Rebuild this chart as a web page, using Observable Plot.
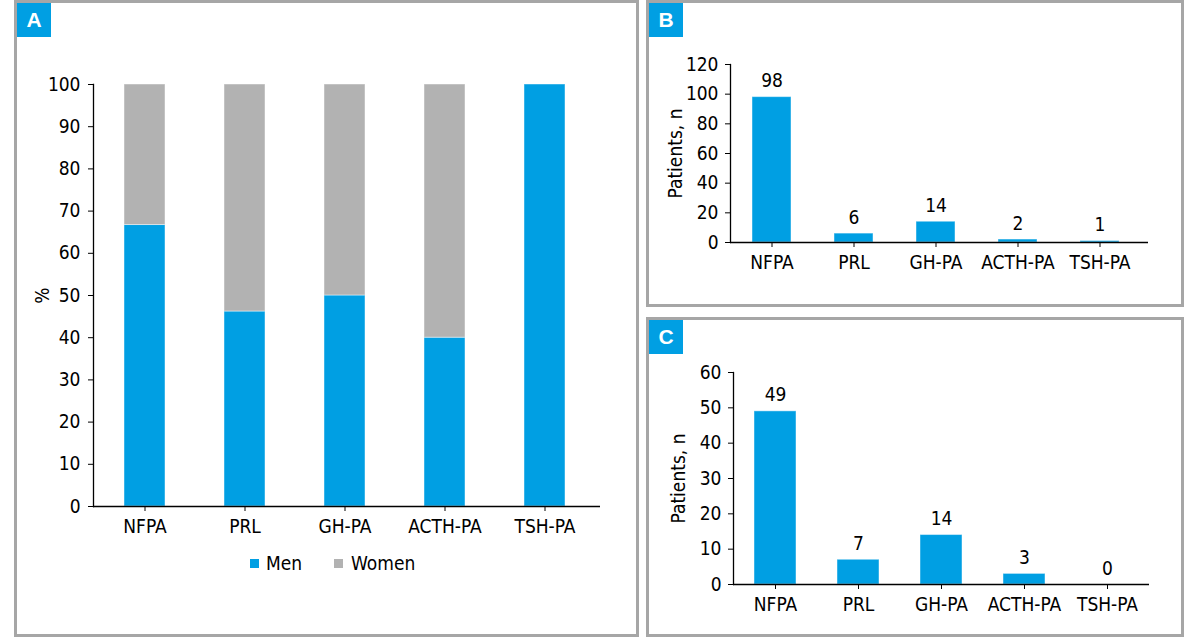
<!DOCTYPE html>
<html>
<head>
<meta charset="utf-8">
<script src="https://cdn.jsdelivr.net/npm/d3@7"></script>
<script src="https://cdn.jsdelivr.net/npm/@observablehq/plot@0.6"></script>
<style>
  body { margin: 0; background: #fff; }
  #page { position: relative; width: 1197px; height: 638px; overflow: hidden;
          font-family: "Liberation Sans Narrow", "DejaVu Sans Condensed", sans-serif; font-stretch: condensed; }
  .panel { position: absolute; box-sizing: border-box; border: 3px solid #a6a6a6; }
  .tag { position: absolute; width: 34px; height: 34px; background: #009fe3; color: #fff;
         font: bold 21px "Liberation Sans", Arial, sans-serif;
         display: flex; align-items: center; justify-content: center; }
  .plot { position: absolute; }
  .legend { position: absolute; font-size: 19px; color: #000; }
  .legend span.sw { position: absolute; width: 9px; height: 9px; }
  .legend span.lb { position: absolute; line-height: 19px; }
</style>
</head>
<body>
<div id="page">
  <div class="panel" style="left:14px;top:0;width:625px;height:637px"></div>
  <div class="panel" style="left:646px;top:0;width:538px;height:307px"></div>
  <div class="panel" style="left:646px;top:317px;width:538px;height:320px"></div>
  <div class="tag" style="left:17px;top:3px">A</div>
  <div class="tag" style="left:649px;top:3px">B</div>
  <div class="tag" style="left:649px;top:320px">C</div>
</div>
<script>
// Pituitary adenoma types
const types = ["NFPA", "PRL", "GH-PA", "ACTH-PA", "TSH-PA"];
// Share of men and women within each type, %
const menPct = [66.7, 46.2, 50, 40, 100];
const womenPct = [33.3, 53.8, 50, 60, 0];
// Number of patients: men (B) and women (C)
const menCount = [98, 6, 14, 2, 1];
const womenCount = [49, 7, 14, 3, 0];
// Axis tick values
const ticksPct = [0, 10, 20, 30, 40, 50, 60, 70, 80, 90, 100];
const ticksMen = [0, 20, 40, 60, 80, 100, 120];
const ticksWomen = [0, 10, 20, 30, 40, 50, 60];
const sexes = ["Men", "Women"];

const BLUE = "#009fe3";
const GREY = "#b2b2b2";
const FONT = '"Liberation Sans Narrow", "DejaVu Sans Condensed", sans-serif';

const page = document.getElementById("page");

function place(el, left, top) {
  el.classList.add("plot");
  el.style.left = left + "px";
  el.style.top = top + "px";
  page.appendChild(el);
}

const baseStyle = { fontFamily: FONT, fontSize: "19px", color: "#000", background: "transparent", overflow: "visible" };

// Panel A: stacked percentage bars
const pctRows = [];
types.forEach((t, i) => {
  pctRows.push({ type: t, sex: "Men", value: menPct[i] });
  pctRows.push({ type: t, sex: "Women", value: womenPct[i] });
});

const chartA = Plot.plot({
  width: 638, height: 600,
  marginLeft: 93, marginRight: 38, marginTop: 84, marginBottom: 94,
  style: baseStyle,
  x: { domain: types, paddingInner: 0.59, paddingOuter: 0.32, align: 0.47, label: null },
  y: { domain: [0, 100], label: null },
  color: { domain: sexes, range: [BLUE, GREY] },
  marks: [
    Plot.barY(pctRows, { x: "type", y: "value", fill: "sex", stroke: "#fff", strokeOpacity: 0.45, strokeWidth: 1 }),
    Plot.axisY({ ticks: ticksPct, tickSize: 5, tickPadding: 8, label: "%", labelAnchor: "center", labelArrow: "none", labelOffset: 58 }),
    Plot.axisX({ tickSize: 5, tickPadding: 8, label: null }),
    Plot.ruleY([0], { stroke: "#000", strokeWidth: 1.3 }),
    Plot.frame({ anchor: "left", stroke: "#000", strokeWidth: 1.3 })
  ]
});
place(chartA, 0, 0);

// Legend for panel A
const legend = document.createElement("div");
legend.className = "legend";
legend.style.left = "0px";
legend.style.top = "0px";
const legendItems = [
  { label: sexes[0], color: BLUE, sx: 250, tx: 266 },
  { label: sexes[1], color: GREY, sx: 334, tx: 351 }
];
legendItems.forEach(d => {
  const sw = document.createElement("span");
  sw.className = "sw";
  sw.style.left = d.sx + "px"; sw.style.top = "559px"; sw.style.background = d.color;
  const lb = document.createElement("span");
  lb.className = "lb";
  lb.style.left = d.tx + "px"; lb.style.top = "554px";
  lb.textContent = d.label;
  legend.appendChild(sw); legend.appendChild(lb);
});
page.appendChild(legend);

// Panels B and C: patient counts with value labels
function countChart(values, yMax, yTicks, dims) {
  const rows = types.map((t, i) => ({ type: t, value: values[i] }));
  return Plot.plot({
    width: dims.width, height: dims.height,
    marginLeft: dims.ml, marginRight: dims.mr, marginTop: dims.mt, marginBottom: dims.mb,
    style: baseStyle,
    x: { domain: types, paddingInner: dims.pi, paddingOuter: dims.po, align: dims.align, label: null },
    y: { domain: [0, yMax], label: null },
    marks: [
      Plot.barY(rows, { x: "type", y: "value", fill: BLUE, stroke: "#fff", strokeOpacity: 0.45, strokeWidth: 1 }),
      Plot.text(rows, { x: "type", y: "value", text: d => String(d.value), dy: -16, fontSize: 19, fill: "#000" }),
      Plot.axisY({ ticks: yTicks, tickSize: 5, tickPadding: 7, label: "Patients, n", labelAnchor: "center", labelArrow: "none", labelOffset: 62 }),
      Plot.axisX({ tickSize: 5, tickPadding: 8, label: null }),
      Plot.ruleY([0], { stroke: "#000", strokeWidth: 1.3 }),
      Plot.frame({ anchor: "left", stroke: "#000", strokeWidth: 1.3 })
    ]
  });
}

const chartB = countChart(menCount, 120, ticksMen,
  { width: 557, height: 305, ml: 90, mr: 49, mt: 64, mb: 63, pi: 0.52, po: 0.3025, align: 0.43 });
place(chartB, 640, 0);

const chartC = countChart(womenCount, 60, ticksWomen,
  { width: 557, height: 326, ml: 93, mr: 48, mt: 62, mb: 52, pi: 0.5, po: 0.25, align: 0.5 });
place(chartC, 640, 310);
</script>
</body>
</html>
